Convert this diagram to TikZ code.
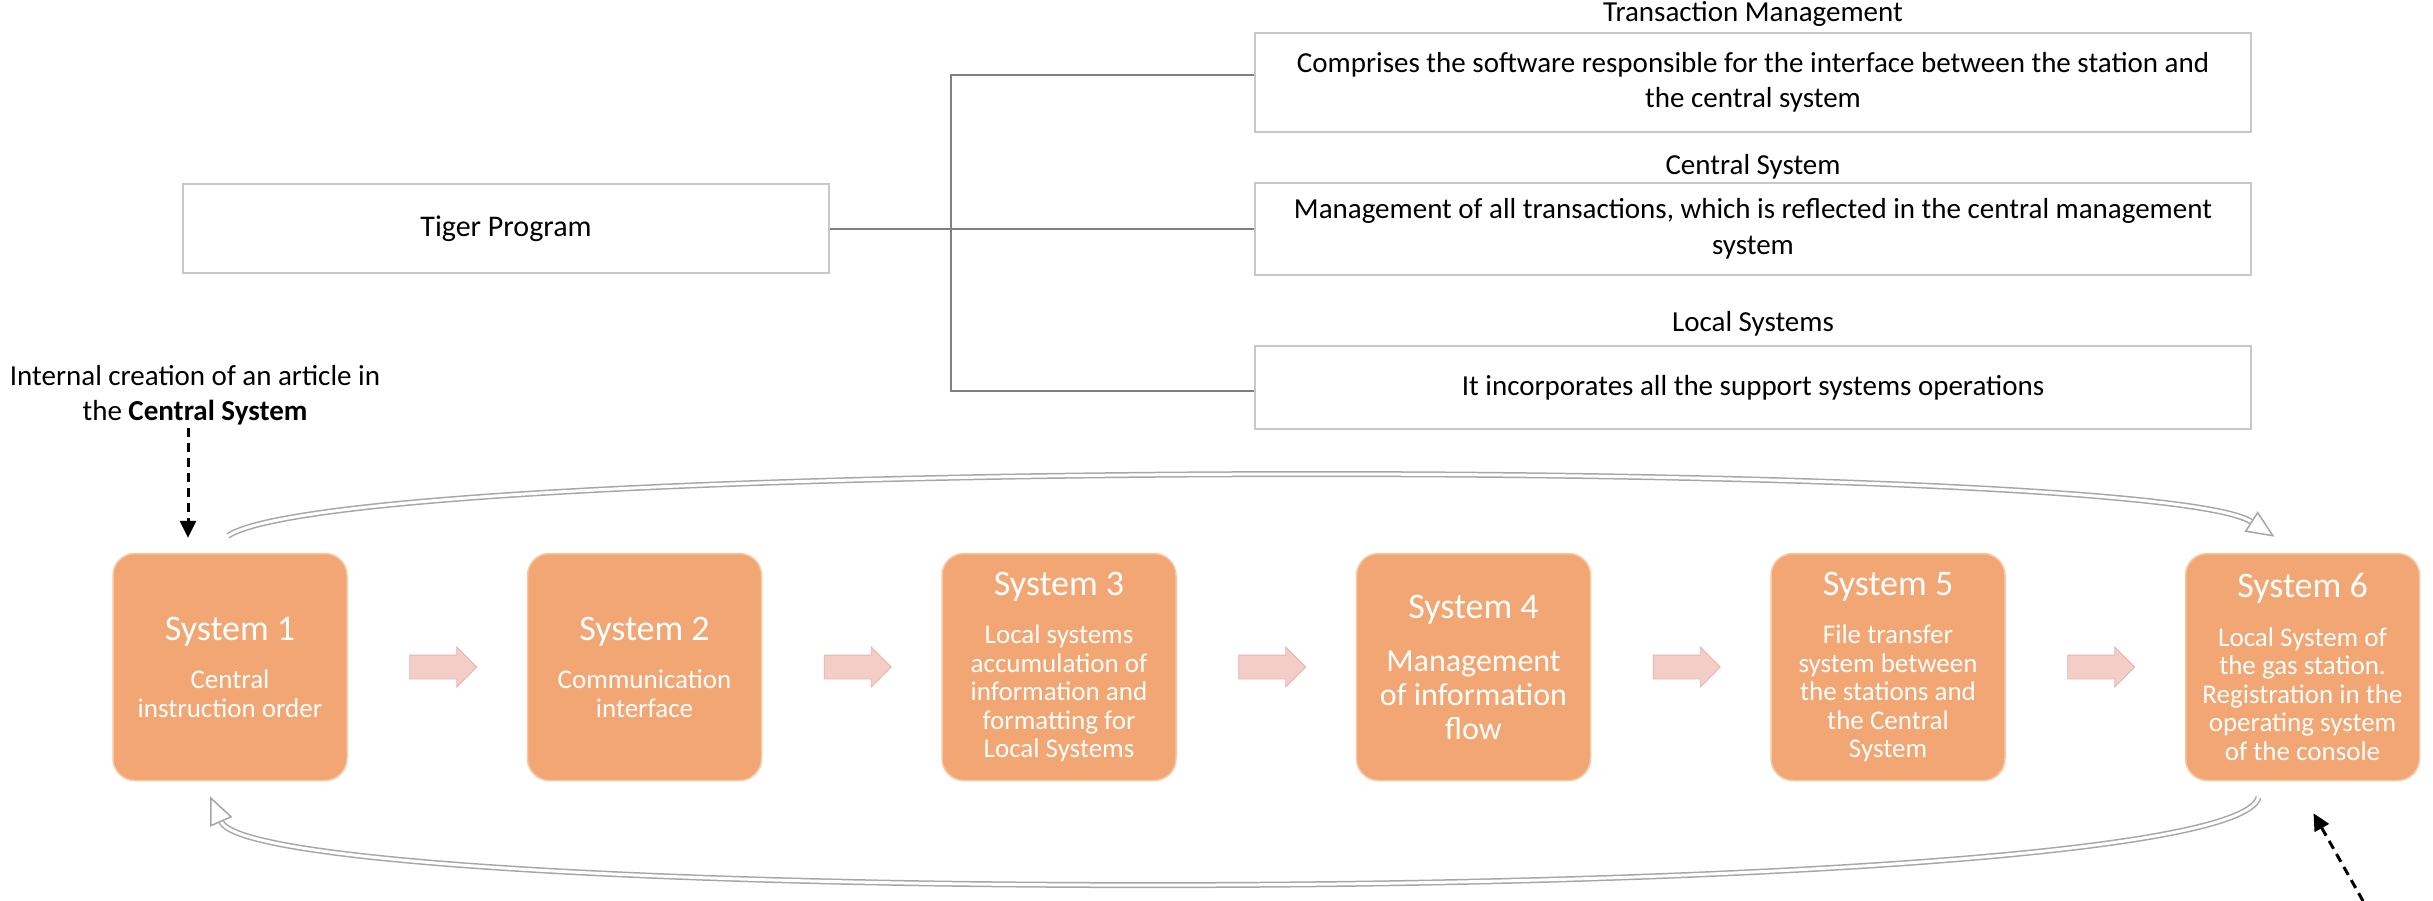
\documentclass[tikz,border=0pt]{standalone}
\usepackage{fontspec}
\setmainfont{Carlito}
\usetikzlibrary{shapes.arrows, arrows.meta, positioning, calc}

\definecolor{boxorange}{HTML}{F2A673}
\definecolor{boxedge}{HTML}{F8C8A2}
\definecolor{steppink}{HTML}{F4CEC6}
\definecolor{steppinkedge}{HTML}{E6B4AB}
\definecolor{framegray}{HTML}{C8C8C8}
\definecolor{treegray}{HTML}{808080}
\definecolor{loopgray}{HTML}{A6A6A6}

\newcommand{\syshead}{\fontsize{36}{40}\selectfont}

\begin{document}
\begin{tikzpicture}[x=1pt, y=-1pt,
  infobox/.style={draw=framegray, line width=2pt, minimum width=996pt, align=center,
    font=\fontsize{29}{35.5}\selectfont},
  headtext/.style={inner sep=0pt, font=\fontsize{29}{35.5}\selectfont},
  treeline/.style={draw=treegray, line width=2.5pt},
  sysbox/.style={draw=boxedge, line width=1.5pt, fill=boxorange, rounded corners=22pt,
    minimum width=234pt, minimum height=227pt, align=center, text=white,
    font=\fontsize{27}{28.5}\selectfont},
  steparrow/.style={single arrow, draw=steppinkedge, fill=steppink, line width=0.8pt,
    minimum height=67pt, inner xsep=0pt, inner ysep=11.5pt, single arrow head extend=8pt},
  dasharrow/.style={line width=3pt, dash pattern=on 9pt off 6pt, -{Triangle[length=17pt, width=16pt]}},
  loopband/.style={draw=loopgray, line width=1.5pt, double=white, double distance=3pt,
    -{Triangle[open, fill=white, length=28pt, width=24pt]}}]
\useasboundingbox (0,0) rectangle (2433,901);

% Program and its three parts
\node[draw=framegray, line width=2pt, minimum width=646pt, minimum height=89pt,
  font=\fontsize{30}{36}\selectfont] (tiger) at (506,229) {Tiger Program};

\node[infobox, minimum height=99pt] (tmbox) at (1753,82.5)
  {Comprises the software responsible for the interface between the station and\\the central system};
\node[infobox, minimum height=92pt] (csbox) at (1753,229)
  {Management of all transactions, which is reflected in the central management\\system};
\node[infobox, minimum height=83pt] (lsbox) at (1753,387.5)
  {It incorporates all the support systems operations};

\node[headtext, above=5pt of tmbox] (tmhead) {Transaction Management};
\node[headtext, above=3pt of csbox] (cshead) {Central System};
\node[headtext, above=9pt of lsbox] (lshead) {Local Systems};

\coordinate (trunk) at (951,229);
\draw[treeline] (tiger.east) -- (csbox.west);
\draw[treeline] ([yshift=7.5pt]tmbox.west) -| (trunk) |- ([yshift=-3.5pt]lsbox.west);

% Chain of systems
\node[sysbox] (s1) at (230,667) {{\syshead System 1}\\[20pt]Central\\instruction order};
\node[sysbox, right=179pt of s1] (s2) {{\syshead System 2}\\[20pt]Communication\\interface};
\node[sysbox, right=179pt of s2] (s3) {{\syshead System 3}\\[20pt]Local systems\\accumulation of\\information and\\formatting for\\Local Systems};
\node[sysbox, right=179pt of s3, font=\fontsize{32}{34}\selectfont] (s4)
  {{\syshead System 4}\\[19pt]Management\\of information\\flow};
\node[sysbox, right=179pt of s4] (s5) {{\syshead System 5}\\[20pt]File transfer\\system between\\the stations and\\the Central\\System};
\node[sysbox, right=179pt of s5] (s6) {{\syshead System 6}\\[20pt]Local System of\\the gas station.\\Registration in the\\operating system\\of the console};

\node[steparrow] (a12) at ($(s1.east)!0.5!(s2.west)$) {};
\node[steparrow] (a23) at ($(s2.east)!0.5!(s3.west)$) {};
\node[steparrow] (a34) at ($(s3.east)!0.5!(s4.west)$) {};
\node[steparrow] (a45) at ($(s4.east)!0.5!(s5.west)$) {};
\node[steparrow] (a56) at ($(s5.east)!0.5!(s6.west)$) {};

% Loops over and under the chain
\draw[loopband] ([xshift=-2pt, yshift=17pt]s1.north) .. controls (350,456) and (2150,456)
  .. ([xshift=-28pt, yshift=16pt]s6.north);
\draw[loopband] ([xshift=-44pt, yshift=-16pt]s6.south) .. controls (2230,910) and (260,910)
  .. ([xshift=-20pt, yshift=-15pt]s1.south);

% Inputs from outside
\node[font=\fontsize{29}{35}\selectfont, align=center] (ext) at (195,395)
  {Internal creation of an article in\\the \textbf{Central System}};
\coordinate (inS1) at ([xshift=-42pt, yshift=15pt]s1.north);
\draw[dasharrow] (ext.south -| inS1) -- (inS1);

\coordinate (outS6) at (2363,901);
\draw[dasharrow] (outS6) -- ([xshift=11pt, yshift=-32pt]s6.south);
\end{tikzpicture}
\end{document}
